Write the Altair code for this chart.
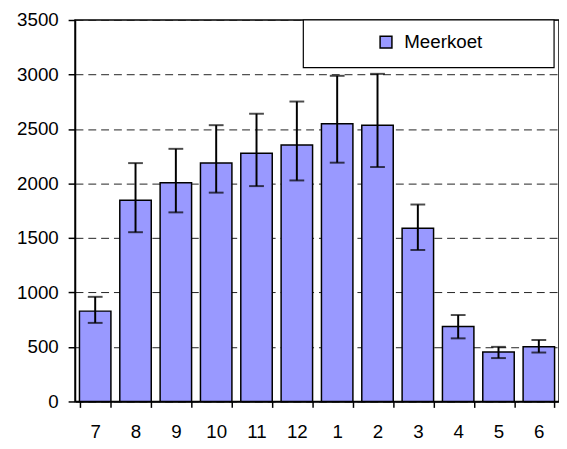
import altair as alt
import pandas as pd

months = ["7", "8", "9", "10", "11", "12", "1", "2", "3", "4", "5", "6"]
values = [829, 1847, 2006, 2187, 2278, 2354, 2549, 2535, 1590, 688, 453, 503]
err_low = [721, 1553, 1735, 1916, 1976, 2028, 2191, 2151, 1390, 579, 398, 449]
err_high = [960, 2187, 2318, 2535, 2640, 2752, 2988, 3006, 1807, 793, 501, 564]
series = ["Meerkoet"] * len(months)

df = pd.DataFrame({"maand": months, "aantal": values, "lo": err_low,
                   "hi": err_high, "serie": series})

FONT = "Liberation Sans"
FS = 19

x_enc = alt.X("maand:N", sort=months, title=None,
              scale=alt.Scale(paddingInner=0.22, paddingOuter=0.11),
              axis=alt.Axis(labelAngle=0, tickBand="extent", tickSize=6,
                            tickColor="black", tickWidth=1.5,
                            domainColor="black", domainWidth=1.5,
                            labelPadding=16, labelFont=FONT, labelFontSize=FS,
                            labelColor="black", grid=False))
y_scale = alt.Scale(domain=[0, 3500], nice=False)

bars = alt.Chart(df).mark_bar(stroke="black", strokeWidth=1.5).encode(
    x=x_enc,
    y=alt.Y("aantal:Q", scale=y_scale, title=None,
            axis=alt.Axis(values=list(range(0, 3501, 500)), format="d",
                          tickSize=7, tickColor="black", tickWidth=1.5,
                          domainColor="black", domainWidth=1.5,
                          labelPadding=10, labelFont=FONT, labelFontSize=FS,
                          labelColor="black", grid=True, gridColor="#222",
                          gridDash=[8, 5], gridWidth=1)),
    color=alt.Color("serie:N", scale=alt.Scale(range=["#9999FF"]),
                    legend=alt.Legend(orient="none", legendX=306, legendY=13,
                                      title=None, symbolType="square",
                                      symbolSize=144, symbolStrokeColor="black",
                                      symbolStrokeWidth=1.5, symbolFillColor="#9999FF",
                                      labelFont=FONT, labelFontSize=FS,
                                      labelColor="black", labelOffset=9,
                                      padding=0)),
)

rules = alt.Chart(df).mark_rule(color="black", strokeWidth=2).encode(
    x=alt.X("maand:N", sort=months),
    y=alt.Y("lo:Q", scale=y_scale),
    y2="hi:Q",
)
caps_lo = alt.Chart(df).mark_tick(color="black", thickness=2, size=15).encode(
    x=alt.X("maand:N", sort=months),
    y=alt.Y("lo:Q", scale=y_scale),
)
caps_hi = alt.Chart(df).mark_tick(color="black", thickness=2, size=15).encode(
    x=alt.X("maand:N", sort=months),
    y=alt.Y("hi:Q", scale=y_scale),
)

box = alt.Chart(pd.DataFrame({"a": [0]})).mark_rect(
    fill="white", stroke="black", strokeWidth=1.2).encode(
    x=alt.value(231.6), x2=alt.value(486), y=alt.value(0), y2=alt.value(48.3))

chart = alt.layer(bars, rules, caps_lo, caps_hi, box).properties(
    width=491, height=387,
    autosize=alt.AutoSizeParams(type="none"),
    padding={"left": 68, "top": 9, "right": 0, "bottom": 42},
    background="white",
).configure_view(stroke="black", strokeWidth=1.5)

chart.save("out.html", embed_options={"renderer": "svg", "actions": False})
